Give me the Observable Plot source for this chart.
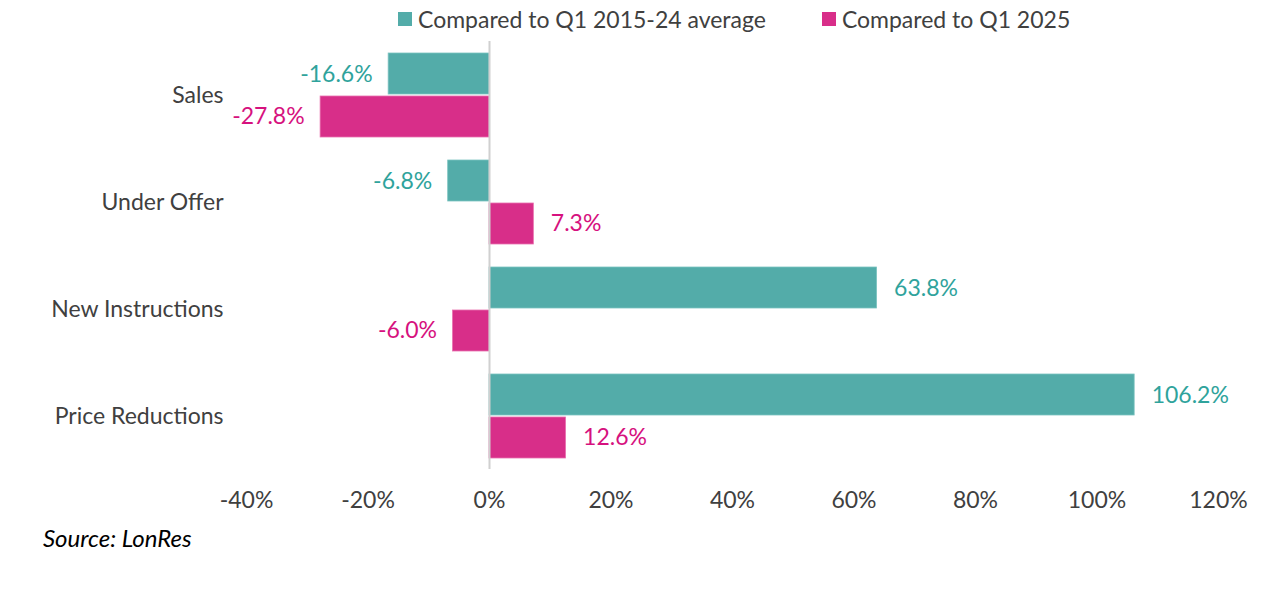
<!DOCTYPE html>
<html>
<head>
<meta charset="utf-8">
<script src="https://cdn.jsdelivr.net/npm/d3@7"></script>
<script src="https://cdn.jsdelivr.net/npm/@observablehq/plot@0.6"></script>
<style>
  body { margin: 0; background: #fff; font-family: Lato, "Open Sans", sans-serif; }
  #wrap { position: relative; width: 1280px; height: 591px; }
  #legend { position: absolute; top: 3px; left: 398px; font-size: 23px; color: #404040; white-space: nowrap; }
  #legend span.item { display: inline-flex; align-items: center; margin-right: 56px; }
  #legend i { display: inline-block; width: 14px; height: 14px; margin-right: 6px; }
  #source { position: absolute; top: 523px; left: 43px; font-size: 24px; font-style: italic; color: #000; }
  #chart { position: absolute; top: 0; left: 0; }
</style>
</head>
<body>
<div id="wrap">
  <div id="chart"></div>
  <div id="legend"></div>
  <div id="source">Source: LonRes</div>
</div>
<script>
const categories = ["Sales", "Under Offer", "New Instructions", "Price Reductions"];
const seriesNames = ["Compared to Q1 2015-24 average", "Compared to Q1 2025"];
const avgValues = [-16.6, -6.8, 63.8, 106.2];
const q1Values = [-27.8, 7.3, -6.0, 12.6];
const xTicks = [-40, -20, 0, 20, 40, 60, 80, 100, 120];
const barColors = ["#53ACA9", "#D82E89"];
const labelColors = ["#2FA39C", "#D6117E"];

const avgData = categories.map((c, i) => ({cat: c, value: avgValues[i]}));
const q1Data = categories.map((c, i) => ({cat: c, value: q1Values[i]}));

const fmt = d => d.value.toFixed(1) + "%";

const legend = document.getElementById("legend");
seriesNames.forEach((s, i) => {
  const sp = document.createElement("span");
  sp.className = "item";
  sp.innerHTML = `<i style="background:${barColors[i]}"></i>${s}`;
  legend.appendChild(sp);
});

const halfBand = 21;
const FS = 23;

function labels(data, color, dy) {
  return [
    Plot.text(data.filter(d => d.value < 0), {y: "cat", x: "value", text: fmt, dy, dx: -16,
      textAnchor: "end", fill: color, fontSize: FS}),
    Plot.text(data.filter(d => d.value >= 0), {y: "cat", x: "value", text: fmt, dy, dx: 17,
      textAnchor: "start", fill: color, fontSize: FS})
  ];
}

const chart = Plot.plot({
  width: 1280,
  height: 520,
  marginTop: 41,
  marginBottom: 51,
  marginLeft: 246,
  marginRight: 62,
  style: {fontFamily: "Lato, 'Open Sans', sans-serif", fontSize: FS + "px", color: "#404040", background: "transparent"},
  x: {domain: [-40, 120], label: null},
  y: {domain: categories, paddingInner: 0.215, paddingOuter: 0.1075, label: null},
  marks: [
    Plot.barX(avgData, {y: "cat", x: "value", fill: barColors[0], stroke: "#7cc3c0", strokeWidth: 0.8, insetBottom: 43}),
    Plot.barX(q1Data, {y: "cat", x: "value", fill: barColors[1], stroke: "#e870ae", strokeWidth: 0.8, insetTop: 43}),
    Plot.ruleX([0], {stroke: "#d0d0d0", strokeWidth: 2}),
    ...labels(avgData, labelColors[0], -halfBand),
    ...labels(q1Data, labelColors[1], halfBand),
    Plot.axisX({ticks: xTicks, tickFormat: d => d + "%", tickSize: 0, tickPadding: 22, fontSize: FS, label: null}),
    Plot.axisY({tickSize: 0, tickPadding: 23, fontSize: FS, label: null})
  ]
});

document.getElementById("chart").appendChild(chart);
</script>
</body>
</html>
